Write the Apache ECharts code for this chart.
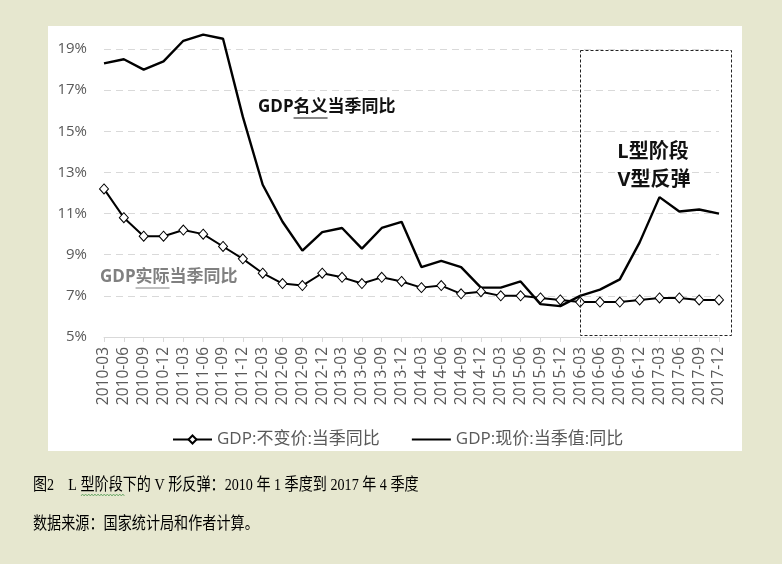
<!DOCTYPE html>
<html>
<head>
<meta charset="utf-8">
<script src="https://cdn.jsdelivr.net/npm/echarts@6/dist/echarts.min.js"></script>
<style>
html,body{margin:0;padding:0;background:#E6E7CF;}
#main{width:782px;height:564px;}
</style>
</head>
<body>
<div id="main"></div>
<script>
// ---- data ----
const categories = ['2010-03','2010-06','2010-09','2010-12','2011-03','2011-06','2011-09','2011-12',
  '2012-03','2012-06','2012-09','2012-12','2013-03','2013-06','2013-09','2013-12',
  '2014-03','2014-06','2014-09','2014-12','2015-03','2015-06','2015-09','2015-12',
  '2016-03','2016-06','2016-09','2016-12','2017-03','2017-06','2017-09','2017-12'];
const realGdp = [12.2,10.8,9.9,9.9,10.2,10.0,9.4,8.8,8.1,7.6,7.5,8.1,7.9,7.6,7.9,7.7,
  7.4,7.5,7.1,7.2,7.0,7.0,6.9,6.8,6.7,6.7,6.7,6.8,6.9,6.9,6.8,6.8];
const nominalGdp = [18.3,18.5,18.0,18.4,19.4,19.7,19.5,15.7,12.4,10.6,9.2,10.1,10.3,9.3,10.3,10.6,
  8.4,8.7,8.4,7.4,7.4,7.7,6.6,6.5,7.0,7.3,7.8,9.6,11.8,11.1,11.2,11.0];
const seriesNames = ['GDP:不变价:当季同比','GDP:现价:当季值:同比'];
const yMin = 5, yMax = 19, yStep = 2;
const boxStart = '2016-03';
const labelNominal = ['GDP','名义','当季同比'];
const labelReal = ['GDP','实际','当季同比'];
const boxLines = ['L型阶段','V型反弹'];
const caption1 = '图2　L 型阶段下的 V 形反弹：2010 年 1 季度到 2017 年 4 季度';
const caption2 = '数据来源：国家统计局和作者计算。';

const FF = '"Open Sans","Noto Sans CJK SC",sans-serif';
const SERIF = '"Liberation Serif","Noto Sans CJK SC",serif';
const GRAY = '#595959';

const chart = echarts.init(document.getElementById('main'), null, {renderer:'canvas'});
chart.setOption({
  backgroundColor: '#E6E7CF',
  animation: false,
  grid: {left:104, right:63, top:49, bottom:227, containLabel:false},
  legend: {
    data: [
      {name: seriesNames[0]},
      {name: seriesNames[1], icon: 'path://M0,0L0,0.001M0,4.1L39,4.1L39,5.9L0,5.9ZM39,10L39,9.999'}
    ],
    left: 172, top: 431, padding: 0, itemWidth: 39, itemHeight: 10, itemGap: 32,
    textStyle: {fontSize: 17, color: GRAY, fontFamily: FF}
  },
  xAxis: {
    type: 'category', data: categories, boundaryGap: false,
    axisLine: {lineStyle: {color: '#d9d9d9', width: 1}},
    axisTick: {show: true, length: 5, lineStyle: {color: '#d9d9d9'}},
    axisLabel: {rotate: 90, interval: 0, margin: 10, fontSize: 15.5, color: GRAY, fontFamily: FF},
    splitLine: {show: false}
  },
  yAxis: {
    type: 'value', min: yMin, max: yMax, interval: yStep,
    axisLine: {show: false}, axisTick: {show: false},
    axisLabel: {formatter: '{value}%', fontSize: 15, color: GRAY, fontFamily: FF, margin: 17},
    splitLine: {lineStyle: {color: '#d9d9d9', type: [7, 5], width: 1}}
  },
  series: [
    {name: seriesNames[1], type: 'line', data: nominalGdp, symbol: 'none', clip: false,
     lineStyle: {color: '#000', width: 2.4}, itemStyle: {color: '#000'}, z: 2},
    {name: seriesNames[0], type: 'line', data: realGdp, symbol: 'diamond', symbolSize: [9, 10], clip: false,
     lineStyle: {color: '#000', width: 2}, itemStyle: {color: '#fff', borderColor: '#000', borderWidth: 1}, z: 3}
  ]
});

// ---- annotations placed from the scales ----
const mctx = document.createElement('canvas').getContext('2d');
function tw(font, s){ mctx.font = font; return mctx.measureText(s).width; }

const xBox = chart.convertToPixel({xAxisIndex:0}, boxStart);
const xLast = chart.convertToPixel({xAxisIndex:0}, categories[categories.length-1]);
const yTop = chart.convertToPixel({yAxisIndex:0}, yMax);
const yBot = chart.convertToPixel({yAxisIndex:0}, yMin);

const fNom = 'bold 17px ' + FF;
const nomX = 258, nomY = 107;
const nomU0 = nomX + tw(fNom, labelNominal[0]);
const nomU1 = nomX + tw(fNom, labelNominal[0] + labelNominal[1]);
const realX = 100, realY = 277;
const realU0 = realX + tw(fNom, labelReal[0]);
const realU1 = realX + tw(fNom, labelReal[0] + labelReal[1]);

const wave = [];
for (let i = 0; i <= 28; i++) wave.push([81 + i * 1.55, 495 + (i % 2 ? -1 : 1)]);

chart.setOption({
  graphic: [
    {type:'rect', z:-100, silent:true, shape:{x:48, y:26, width:694, height:425}, style:{fill:'#ffffff'}},
    {type:'rect', z:50, silent:true,
     shape:{x:Math.round(xBox)+0.5, y:Math.round(yTop)+1.5, width:Math.round(xLast - xBox + 12), height:Math.round(yBot - yTop - 3)},
     style:{fill:null, stroke:'#222', lineWidth:1, lineDash:[3,2]}},
    {type:'text', z:60, style:{text: labelNominal.join(''), x:nomX, y:nomY, font:fNom, fill:'#111', verticalAlign:'middle'}},
    {type:'line', z:60, shape:{x1:nomU0, y1:nomY+11, x2:nomU1, y2:nomY+11}, style:{stroke:'#111', lineWidth:1}},
    {type:'text', z:60, style:{text: labelReal.join(''), x:realX, y:realY, font:fNom, fill:'#808080', verticalAlign:'middle'}},
    {type:'line', z:60, shape:{x1:realU0, y1:realY+11, x2:realU1, y2:realY+11}, style:{stroke:'#808080', lineWidth:1}},
    {type:'text', z:60, style:{text: boxLines[0], x:653, y:152, font:'bold 20px ' + FF, fill:'#111', align:'center', verticalAlign:'middle'}},
    {type:'text', z:60, style:{text: boxLines[1], x:654, y:180, font:'bold 20px ' + FF, fill:'#111', align:'center', verticalAlign:'middle'}},
    {type:'text', z:60, x:33, y:486, scaleX:0.83, originX:0, originY:0,
     style:{text: caption1, x:0, y:0, font:'17px ' + SERIF, fill:'#000', verticalAlign:'middle'}},
    {type:'polyline', z:60, shape:{points: wave}, style:{stroke:'#5aa05a', lineWidth:0.8, fill:null}},
    {type:'text', z:60, x:33, y:525, scaleX:0.83, originX:0, originY:0,
     style:{text: caption2, x:0, y:0, font:'17px ' + SERIF, fill:'#000', verticalAlign:'middle'}}
  ]
});
</script>
</body>
</html>
